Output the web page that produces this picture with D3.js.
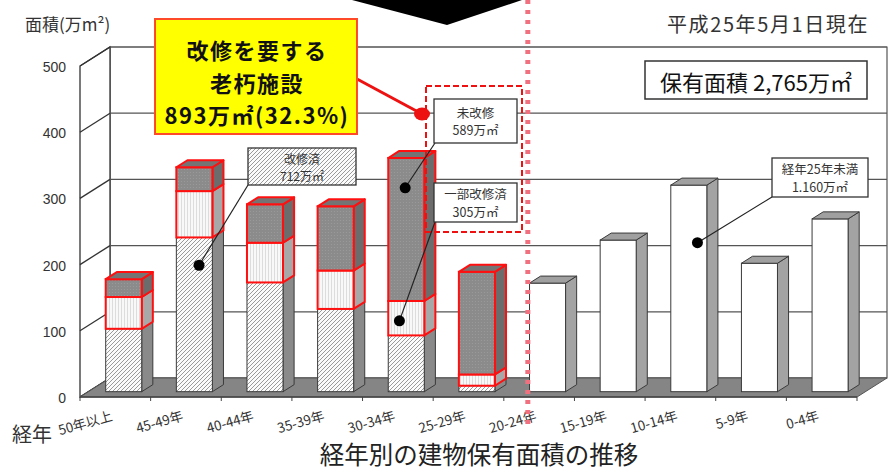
<!DOCTYPE html>
<html>
<head>
<meta charset="utf-8">
<script src="https://cdn.jsdelivr.net/npm/d3@7"></script>
<style>
  body { margin: 0; background: #fff; }
  svg { display: block; }
</style>
</head>
<body>
<svg id="chart" width="890" height="470"></svg>
<script>
// Floor area by building age (万㎡), as of 平成25年5月1日
const categories  = ["50年以上", "45-49年", "40-44年", "35-39年", "30-34年", "25-29年",
                     "20-24年", "15-19年", "10-14年", "5-9年", "0-4年"];
const renovated   = [95, 233, 165, 125, 85, 9, 0, 0, 0, 0, 0];      // 改修済
const partial     = [48, 70, 60, 58, 52, 17, 0, 0, 0, 0, 0];        // 一部改修済
const unrenovated = [27, 36, 58, 97, 216, 155, 0, 0, 0, 0, 0];      // 未改修
const under25     = [0, 0, 0, 0, 0, 0, 164, 229, 312, 194, 261];    // 経年25年未満
const yTicks      = [0, 100, 200, 300, 400, 500];

const FONT = "'Noto Sans CJK JP','Noto Sans',sans-serif";
const NUM  = "'Liberation Sans',Arial,sans-serif";

const svg = d3.select("#chart");
const defs = svg.append("defs");

// fill patterns for the bar segments
const hatch = defs.append("pattern").attr("id", "hatch")
  .attr("width", 4).attr("height", 4).attr("patternUnits", "userSpaceOnUse");
hatch.append("rect").attr("width", 4).attr("height", 4).attr("fill", "#fbfbfb");
hatch.append("path").attr("d", "M-1,1 L1,-1 M0,4 L4,0 M3,5 L5,3")
  .attr("stroke", "#8e8e8e").attr("stroke-width", 0.9);

const stripe = defs.append("pattern").attr("id", "vstripe")
  .attr("width", 3).attr("height", 3).attr("patternUnits", "userSpaceOnUse");
stripe.append("rect").attr("width", 3).attr("height", 3).attr("fill", "#f8f8f8");
stripe.append("line").attr("x1", 1.5).attr("x2", 1.5).attr("y1", 0).attr("y2", 3)
  .attr("stroke", "#d4d4d4").attr("stroke-width", 0.8);

const grain = defs.append("pattern").attr("id", "grain")
  .attr("width", 3).attr("height", 3).attr("patternUnits", "userSpaceOnUse");
grain.append("rect").attr("width", 3).attr("height", 3).attr("fill", "#8b8b8b");
grain.append("circle").attr("cx", 1.5).attr("cy", 1.5).attr("r", 0.6).attr("fill", "#9c9c9c");

// oblique 3D projection: depth 0 = front plane, depth 1 = back wall
const DX = 30, DY = 19;
const x = d3.scaleBand().domain(categories).range([80, 857]).padding(0);
const y = d3.scaleLinear().domain([0, 500]).range([397, 66]);
const P = (px, v, d) => [px + d * DX, y(v) - d * DY];
const poly = pts => pts.map(p => p.join(",")).join(" ");
const xL = x.range()[0], xR = x.range()[1];

const g = svg.append("g");

// back wall
g.append("polygon")
  .attr("points", poly([P(xL, 0, 1), P(xR, 0, 1), P(xR, 500, 1), P(xL, 500, 1)]))
  .attr("fill", "#fff").attr("stroke", "#555").attr("stroke-width", 1.2);
// side wall
g.append("polygon")
  .attr("points", poly([P(xL, 0, 0), P(xL, 0, 1), P(xL, 500, 1), P(xL, 500, 0)]))
  .attr("fill", "#fff").attr("stroke", "#333").attr("stroke-width", 1.3);

// gridlines on back wall and side wall
yTicks.forEach(v => {
  const a = P(xL, v, 1), b = P(xR, v, 1), c = P(xL, v, 0);
  g.append("line").attr("x1", a[0]).attr("y1", a[1]).attr("x2", b[0]).attr("y2", b[1])
    .attr("stroke", "#555").attr("stroke-width", 1.2);
  g.append("line").attr("x1", c[0]).attr("y1", c[1]).attr("x2", a[0]).attr("y2", a[1])
    .attr("stroke", "#333").attr("stroke-width", 1.3);
});

// floor
g.append("polygon")
  .attr("points", poly([P(xL, 0, 0), P(xR, 0, 0), P(xR, 0, 1), P(xL, 0, 1)]))
  .attr("fill", "#858585").attr("stroke", "#555").attr("stroke-width", 1);
g.append("line").attr("x1", xL).attr("x2", xR).attr("y1", y(0)).attr("y2", y(0))
  .attr("stroke", "#444").attr("stroke-width", 1.5);

// category tick marks
d3.range(categories.length + 1).forEach(i => {
  const tx = xL + i * x.step();
  g.append("line").attr("x1", tx).attr("x2", tx).attr("y1", y(0)).attr("y2", y(0) + 4)
    .attr("stroke", "#444").attr("stroke-width", 1);
});

// y-axis tick labels
g.selectAll("text.ytick").data(yTicks).join("text").attr("class", "ytick")
  .attr("x", 66).attr("y", d => y(d) + 1)
  .attr("text-anchor", "end").attr("dominant-baseline", "central")
  .attr("font-family", NUM).attr("font-size", 14).attr("fill", "#333")
  .text(d => d);

// stacked 3D bars
const segDefs = [
  { key: "renovated",   front: "url(#hatch)",   side: "#8a8a8a", top: "#9a9a9a", stroke: "#3a3a3a", sw: 1 },
  { key: "partial",     front: "url(#vstripe)", side: "#a8a8a8", top: "#b0b0b0", stroke: "#ff1010", sw: 2 },
  { key: "unrenovated", front: "url(#grain)",   side: "#6c6c6c", top: "#747474", stroke: "#ff1010", sw: 2 },
  { key: "under25",     front: "#ffffff",       side: "#a3a3a3", top: "#a0a0a0", stroke: "#3a3a3a", sw: 1 }
];
const series = { renovated, partial, unrenovated, under25 };
const rows = categories.map((c, i) => {
  const r = { cat: c };
  segDefs.forEach(s => r[s.key] = series[s.key][i]);
  return r;
});
const stacked = d3.stack().keys(segDefs.map(s => s.key))(rows);

const D0 = 0.28, D1 = 0.65;
const bw = x.step() * 0.51;
const barX0 = c => x(c) + (x.step() - bw) / 2;

const bars = g.append("g");
categories.forEach((c, i) => {
  const x0 = barX0(c), x1 = x0 + bw;
  const segs = segDefs.map((s, j) => ({ s, v0: stacked[j][i][0], v1: stacked[j][i][1] }))
    .filter(d => d.v1 - d.v0 > 0);
  segs.forEach((d, k) => {
    const f0 = P(x0, d.v1, D0), f1 = P(x1, d.v0, D0);
    bars.append("polygon")
      .attr("points", poly([P(x1, d.v0, D0), P(x1, d.v0, D1), P(x1, d.v1, D1), P(x1, d.v1, D0)]))
      .attr("fill", d.s.side).attr("stroke", d.s.stroke).attr("stroke-width", d.s.sw)
      .attr("stroke-linejoin", "round");
    bars.append("rect")
      .attr("x", f0[0]).attr("y", f0[1]).attr("width", f1[0] - f0[0]).attr("height", f1[1] - f0[1])
      .attr("fill", d.s.front).attr("stroke", d.s.stroke).attr("stroke-width", d.s.sw);
    if (k === segs.length - 1) {
      bars.append("polygon")
        .attr("points", poly([P(x0, d.v1, D0), P(x1, d.v1, D0), P(x1, d.v1, D1), P(x0, d.v1, D1)]))
        .attr("fill", d.s.top).attr("stroke", d.s.stroke).attr("stroke-width", d.s.sw)
        .attr("stroke-linejoin", "round");
    }
  });
});

// category labels
g.selectAll("text.cat").data(categories).join("text").attr("class", "cat")
  .attr("transform", d => `translate(${x(d) + x.step() / 2 - 2},420) rotate(-16)`)
  .attr("text-anchor", "end")
  .attr("font-family", FONT).attr("font-size", 13.5).attr("fill", "#333")
  .text(d => d);

svg.append("text").attr("x", 12).attr("y", 442)
  .attr("font-family", FONT).attr("font-size", 20).attr("fill", "#333").text("経年");

// axis title and date
svg.append("text").attr("x", 25).attr("y", 31)
  .attr("font-family", FONT).attr("font-size", 17).attr("fill", "#333").text("面積(万m²)");
svg.append("text").attr("x", 667).attr("y", 32)
  .attr("font-family", FONT).attr("font-size", 20).attr("letter-spacing", 1.6)
  .attr("fill", "#333").text("平成25年5月1日現在");

// chart title
svg.append("text").attr("x", 479).attr("y", 453).attr("text-anchor", "middle")
  .attr("dominant-baseline", "central")
  .attr("font-family", FONT).attr("font-size", 24.5).attr("fill", "#222")
  .text("経年別の建物保有面積の推移");

// tip of the downward arrow at the top
svg.append("polygon").attr("points", "352,0 522,0 447,25").attr("fill", "#000");

// divider between old and recent buildings
const divX = x(categories[6]) + 0.8 * DX;
svg.append("line").attr("x1", divX).attr("x2", divX).attr("y1", 0).attr("y2", 428)
  .attr("stroke", "#f07080").attr("stroke-width", 5).attr("stroke-dasharray", "4 6");

// annotation helpers
const dot = (cat, frac, v) => {
  const px = barX0(cat) + frac * bw;
  return P(px, v, D0);
};
const leader = (from, to, color, w) =>
  svg.append("line").attr("x1", from[0]).attr("y1", from[1]).attr("x2", to[0]).attr("y2", to[1])
    .attr("stroke", color).attr("stroke-width", w);
const callout = (bx, by, w, h, lines, fill, size, gap) => {
  svg.append("rect").attr("x", bx).attr("y", by).attr("width", w).attr("height", h)
    .attr("fill", fill).attr("stroke", "#333").attr("stroke-width", 1.3);
  lines.forEach((t, k) => svg.append("text")
    .attr("x", bx + w / 2).attr("y", by + h / 2 + (k - (lines.length - 1) / 2) * gap)
    .attr("text-anchor", "middle").attr("dominant-baseline", "central")
    .attr("font-family", FONT).attr("font-size", size).attr("fill", "#333").text(t));
};

// 改修済
const dA = dot(categories[1], 0.63, 191);
leader([248, 185], dA, "#222", 1.2);
svg.append("circle").attr("cx", dA[0]).attr("cy", dA[1]).attr("r", 5.5).attr("fill", "#000");
callout(248, 148, 108, 37, ["改修済", "712万㎡"], "url(#hatch)", 12, 17);

// red dashed group: 未改修 / 一部改修済
svg.append("rect").attr("x", 426).attr("y", 86).attr("width", 96).attr("height", 146)
  .attr("fill", "none").attr("stroke", "#ee1111").attr("stroke-width", 2).attr("stroke-dasharray", "6 3");
const dB = dot(categories[4], 0.47, 308);
leader([435, 143], dB, "#222", 1.2);
svg.append("circle").attr("cx", dB[0]).attr("cy", dB[1]).attr("r", 5.5).attr("fill", "#000");
callout(434, 99, 83, 44, ["未改修", "589万㎡"], "#fff", 12.5, 17.5);
const dC = dot(categories[4], 0.31, 107);
leader([435, 222], dC, "#222", 1.2);
svg.append("circle").attr("cx", dC[0]).attr("cy", dC[1]).attr("r", 5.5).attr("fill", "#000");
callout(434, 183, 83, 39, ["一部改修済", "305万㎡"], "#fff", 12.5, 17.5);

// 経年25年未満
const dD = dot(categories[8], 0.74, 225);
leader([772, 197], dD, "#222", 1.2);
svg.append("circle").attr("cx", dD[0]).attr("cy", dD[1]).attr("r", 5.5).attr("fill", "#000");
callout(772, 158, 96, 39, ["経年25年未満", "1.160万㎡"], "#fff", 12.5, 17.5);

// total floor area
svg.append("rect").attr("x", 645).attr("y", 61).attr("width", 222).attr("height", 38)
  .attr("fill", "#fff").attr("stroke", "#333").attr("stroke-width", 1.5);
svg.append("text").attr("x", 756).attr("y", 81).attr("text-anchor", "middle")
  .attr("dominant-baseline", "central")
  .attr("font-family", FONT).attr("font-size", 22).attr("fill", "#111")
  .text("保有面積 2,765万㎡");

// aged facilities needing renovation
leader([357, 79], [422, 114], "#ee1111", 3);
svg.append("ellipse").attr("cx", 422).attr("cy", 114).attr("rx", 8).attr("ry", 6.5).attr("fill", "#ee1111");
svg.append("rect").attr("x", 155).attr("y", 19).attr("width", 202).attr("height", 115)
  .attr("fill", "#ffff00").attr("stroke", "#ff4a2a").attr("stroke-width", 2);
[["改修を要する", 49], ["老朽施設", 81.5], ["893万㎡(32.3%)", 114]].forEach(([t, ty]) =>
  svg.append("text").attr("x", 257).attr("y", ty).attr("text-anchor", "middle")
    .attr("dominant-baseline", "central")
    .attr("font-family", FONT).attr("font-weight", "bold").attr("font-size", 22)
    .attr("letter-spacing", 1.5)
    .attr("fill", "#111").text(t));
</script>
</body>
</html>
